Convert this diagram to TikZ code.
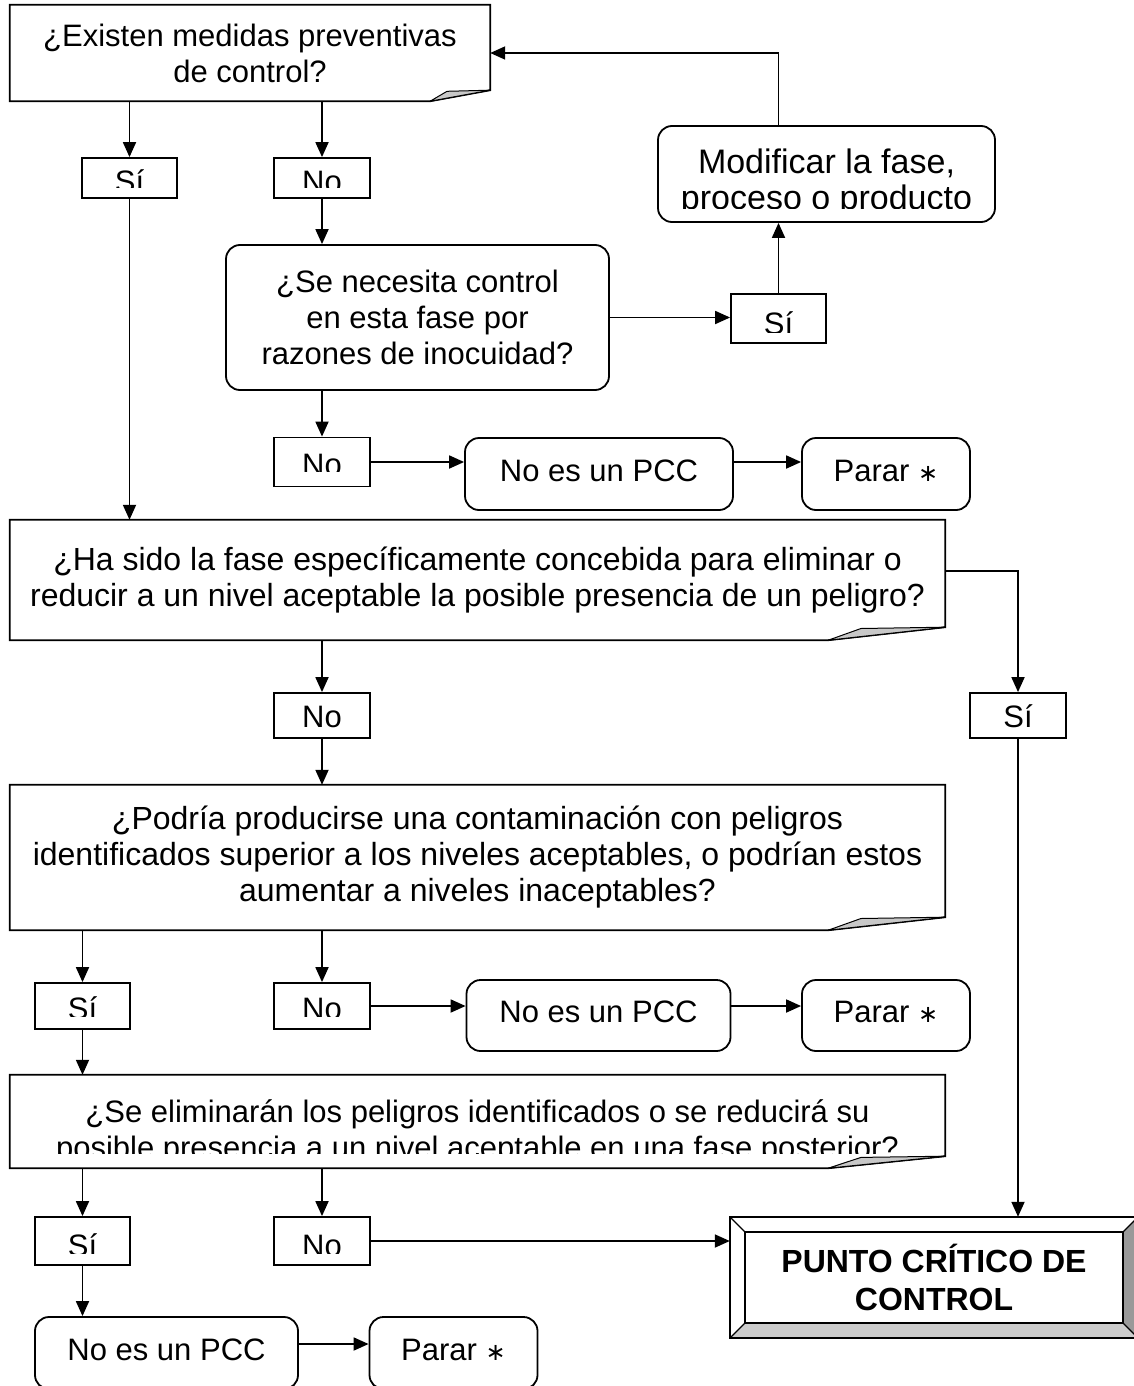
\documentclass[tikz,border=0pt]{standalone}
\usepackage{fontspec}
\setmainfont{Liberation Sans}
\newfontfamily\symfont{DejaVu Sans}
\usetikzlibrary{arrows.meta,calc}

\definecolor{curl}{HTML}{C8C8C8}
\definecolor{bevellow}{HTML}{CCCCCC}
\definecolor{bevelright}{HTML}{999999}

\tikzset{
  line/.style={line width=1.8pt},
  arr/.style={line, -{Triangle[length=15pt,width=13pt]}},
  lbl/.style={font=\fontsize{31}{36}\selectfont, align=center, inner sep=0pt},
  big/.style={font=\fontsize{32}{36}\selectfont},
  qbox/.style={lbl},
  rbox/.style={draw, line width=1.8pt, rounded corners=14pt, lbl,
               text height=22pt, text depth=8pt},
  rframe/.style={draw, line width=1.8pt, rounded corners=14pt, inner sep=0pt},
  sbox/.style={draw, line width=1.8pt, inner sep=0pt},
}

\newcommand\stopmark{Parar {\symfont\fontsize{24}{24}\selectfont ∗}}

% outline of a question box with a curled lower right corner
\newcommand\foldframe[3]{%
  \draw[line, line join=miter] (#1.south west) -- (#1.north west) -- (#1.north east)
    -- ([yshift=#3]#1.south east) -- ([xshift=-#2]#1.south east) -- cycle;
  \filldraw[fill=curl, line width=1pt, line join=round] ([xshift=-#2]#1.south east)
    -- ([xshift=-0.72*#2, yshift=0.9*#3]#1.south east)
    -- ([yshift=#3]#1.south east) -- cycle;}

% answer label: box, label name, text, baseline below top, cut above bottom
\newcommand\answer[5]{%
  \begin{scope}
    \clip (#1.north west) rectangle ([yshift=#5]#1.south east);
    \node[lbl, anchor=base] (#2) at ([yshift=-#4]#1.north) {#3};
  \end{scope}}

\begin{document}
\begin{tikzpicture}[x=1pt,y=-1pt]
\useasboundingbox[fill=white] (0,0) rectangle (1134,1386);

% ---------- question 1 ----------
\node[qbox, minimum width=480pt, minimum height=96pt] (q1) at (250,53)
  {¿Existen medidas preventivas\\de control?};
\foldframe{q1}{60pt}{11pt}

\node[sbox, minimum width=95pt, minimum height=40pt] (s1) at (129.5,178) {};
\answer{s1}{s1t}{Sí}{35pt}{11pt}
\node[sbox, minimum width=96pt, minimum height=40pt] (n1) at (322,178) {};
\answer{n1}{n1t}{No}{35pt}{11pt}

% ---------- question 2 ----------
\node[rframe, lbl, minimum width=383pt, minimum height=145pt] (q2) at (417.5,317.5)
  {¿Se necesita control\\en esta fase por\\razones de inocuidad?};
\node[sbox, minimum width=95pt, minimum height=49pt] (s2) at (778.5,318.5) {};
\answer{s2}{s2t}{Sí}{41pt}{11pt}

\node[rframe, minimum width=337pt, minimum height=96pt] (m) at (826.5,174) {};
\begin{scope}
  \clip (m.north west) rectangle ([yshift=14pt]m.south east);
  \node[lbl, font=\fontsize{34}{36}\selectfont, anchor=north] (mt)
    at ([yshift=-24pt]m.north) {Modificar la fase,\\proceso o producto};
\end{scope}

\node[sbox, minimum width=96pt, minimum height=49pt] (n2) at (322,462) {};
\answer{n2}{n2t}{No}{39pt}{16pt}
\node[rbox, minimum width=268pt, minimum height=72pt] (p1) at (599,474) {No es un PCC};
\node[rbox, minimum width=168pt, minimum height=72pt] (r1) at (886,474) {\stopmark};

% ---------- question 3 ----------
\node[qbox, big, minimum width=935pt, minimum height=120pt] (q3) at (477.5,580)
  {¿Ha sido la fase específicamente concebida para eliminar o\\reducir a un nivel aceptable la posible presencia de un peligro?};
\foldframe{q3}{117pt}{13pt}

\node[sbox, minimum width=96pt, minimum height=45pt] (s3) at (1018,715.5) {};
\answer{s3}{s3t}{Sí}{35pt}{9pt}
\node[sbox, minimum width=96pt, minimum height=45pt] (n3) at (322,715.5) {};
\answer{n3}{n3t}{No}{35pt}{9pt}

% ---------- question 4 ----------
\node[qbox, big, minimum width=935pt, minimum height=145pt] (q4) at (477.5,857.5)
  {¿Podría producirse una contaminación con peligros\\identificados superior a los niveles aceptables, o podrían estos\\aumentar a niveles inaceptables?};
\foldframe{q4}{117pt}{13pt}

\node[sbox, minimum width=95pt, minimum height=46pt] (s4) at (82.5,1006) {};
\answer{s4}{s4t}{Sí}{37pt}{13pt}
\node[sbox, minimum width=96pt, minimum height=46pt] (n4) at (322,1006) {};
\answer{n4}{n4t}{No}{37pt}{13pt}
\node[rbox, minimum width=264pt, minimum height=71pt] (p2) at (598.5,1015.5) {No es un PCC};
\node[rbox, minimum width=168pt, minimum height=71pt] (r2) at (886,1015.5) {\stopmark};

% ---------- question 5 ----------
\node[qbox, minimum width=935pt, minimum height=93pt] (q5) at (477.5,1121.5) {};
\foldframe{q5}{117pt}{12pt}
\begin{scope}
  \clip (q5.north west) rectangle ([yshift=15pt]q5.south east);
  \node[lbl, anchor=north] (q5t) at ([yshift=-25pt]q5.north)
    {¿Se eliminarán los peligros identificados o se reducirá su\\posible presencia a un nivel aceptable en una fase posterior?};
\end{scope}

\node[sbox, minimum width=95pt, minimum height=48pt] (s5) at (82.5,1241) {};
\answer{s5}{s5t}{Sí}{40pt}{12pt}
\node[sbox, minimum width=96pt, minimum height=48pt] (n5) at (322,1241) {};
\answer{n5}{n5t}{No}{40pt}{12pt}
\node[rbox, minimum width=263pt, minimum height=72pt] (p3) at (166.5,1353) {No es un PCC};
\node[rbox, minimum width=168pt, minimum height=72pt] (r3) at (453.5,1353) {\stopmark};

% ---------- critical control point (bevelled frame) ----------
\node[lbl, font=\bfseries\fontsize{32}{38}\selectfont,
      minimum width=408pt, minimum height=121pt] (pcc) at (934,1277.5)
  {PUNTO CRÍTICO DE\\CONTROL};
\coordinate (pa) at ([shift={(15pt,-15pt)}]pcc.north west);
\coordinate (pb) at ([shift={(-15pt,-15pt)}]pcc.north east);
\coordinate (pc) at ([shift={(-15pt,15pt)}]pcc.south east);
\coordinate (pd) at ([shift={(15pt,15pt)}]pcc.south west);
\fill[bevellow] (pcc.south west) -- (pd) -- (pc) -- (pcc.south east) -- cycle;
\fill[bevelright] (pcc.south east) -- (pc) -- (pb) -- (pcc.north east) -- cycle;
\draw[line width=1.5pt] (pcc.south west) rectangle (pcc.north east);
\draw[line width=1.5pt] (pd) rectangle (pb);
\draw[line width=1.2pt] (pcc.north west) -- (pa) (pcc.north east) -- (pb)
  (pcc.south east) -- (pc) (pcc.south west) -- (pd);

% ---------- connectors ----------
\draw[arr] (q1.south -| s1.north) -- (s1.north);
\draw[arr] (q1.south -| n1.north) -- (n1.north);
\draw[arr] (n1.south) -- (n1.south |- q2.north);
\draw[arr] (s1.south) -- (s1.south |- q3.north);
\draw[arr] (q2.east) -- (q2.east -| s2.west);
\draw[arr] (s2.north) -- (s2.north |- m.south);
\draw[arr] (m.north -| s2.north) |- (q1.east);
\draw[arr] (n2.north |- q2.south) -- (n2.north);
\draw[arr] (n2.east) -- (n2.east -| p1.west);
\draw[arr] (n2.east -| p1.east) -- (n2.east -| r1.west);
\draw[arr] ([yshift=9pt]q3.east) -| (s3.north);
\draw[arr] (n3.north |- q3.south) -- (n3.north);
\draw[arr] (n3.south) -- (n3.south |- q4.north);
\draw[arr] (q4.south -| s4.north) -- (s4.north);
\draw[arr] (q4.south -| n4.north) -- (n4.north);
\draw[arr] (n4.east) -- (n4.east -| p2.west);
\draw[arr] (n4.east -| p2.east) -- (n4.east -| r2.west);
\draw[arr] (s4.south) -- (s4.south |- q5.north);
\draw[arr] (q5.south -| s5.north) -- (s5.north);
\draw[arr] (q5.south -| n5.north) -- (n5.north);
\draw[arr] (s3.south) -- (s3.south |- pcc.north);
\draw[arr] (n5.east) -- (n5.east -| pcc.west);
\draw[arr] (s5.south) -- (s5.south |- p3.north);
\draw[arr] ([yshift=9pt]p3.east) -- ([yshift=9pt]p3.east -| r3.west);
\end{tikzpicture}
\end{document}
